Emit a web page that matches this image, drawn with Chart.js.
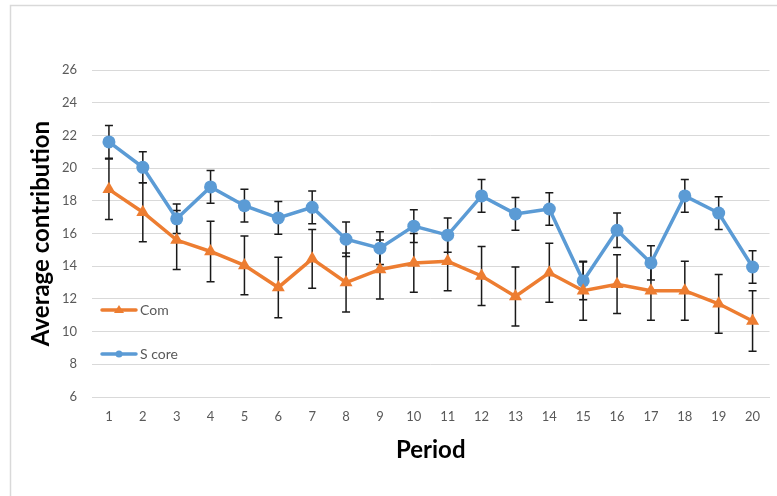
<!DOCTYPE html>
<html>
<head>
<meta charset="utf-8">
<script src="https://cdn.jsdelivr.net/npm/chart.js@4"></script>
<style>
  html, body { margin: 0; padding: 0; background: #fff; }
  #wrap { width: 777px; height: 496px; position: relative; }
</style>
</head>
<body>
<div id="wrap"><canvas id="c" width="777" height="496"></canvas></div>
<script>
const periods = ["1","2","3","4","5","6","7","8","9","10","11","12","13","14","15","16","17","18","19","20"];
const comValues = [18.7, 17.3, 15.6, 14.9, 14.05, 12.7, 14.45, 13.0, 13.8, 14.2, 14.3, 13.4, 12.15, 13.6, 12.5, 12.9, 12.5, 12.5, 11.7, 10.65];
const comErrors = [1.85, 1.8, 1.8, 1.85, 1.8, 1.85, 1.8, 1.8, 1.8, 1.8, 1.8, 1.8, 1.8, 1.8, 1.8, 1.8, 1.8, 1.8, 1.8, 1.85];
const scoreValues = [21.6, 20.05, 16.9, 18.85, 17.7, 16.95, 17.6, 15.65, 15.1, 16.45, 15.9, 18.3, 17.2, 17.5, 13.1, 16.2, 14.2, 18.3, 17.25, 13.95];
const scoreErrors = [1.0, 0.95, 0.9, 1.0, 1.0, 1.0, 1.0, 1.05, 1.0, 1.0, 1.05, 1.0, 1.0, 1.0, 1.15, 1.05, 1.05, 1.0, 1.0, 1.0];
const seriesNames = ["Com", "S core"];
const yTitle = "Average contribution";
const xTitle = "Period";

const ORANGE = "#ED7D31";
const BLUE = "#5B9BD5";
const GRID = "#D9D9D9";
const TICK = "#595959";
const FONT = "Lato, 'Liberation Sans', sans-serif";

const errorSets = [comErrors, scoreErrors];

const frame = {
  id: "frame",
  beforeDraw(chart) {
    const ctx = chart.ctx;
    ctx.save();
    ctx.fillStyle = "#fff";
    ctx.fillRect(0, 0, chart.width, chart.height);
    ctx.strokeStyle = GRID;
    ctx.lineWidth = 1.5;
    ctx.strokeRect(10.5, 5.5, 900, 600);
    ctx.restore();
  }
};

const errorBars = {
  id: "errorBars",
  beforeDatasetsDraw(chart) {
    const ctx = chart.ctx;
    const x = chart.scales.x, y = chart.scales.y;
    ctx.save();
    ctx.strokeStyle = "#1a1a1a";
    ctx.lineWidth = 1.5;
    chart.data.datasets.forEach((ds, di) => {
      const errs = errorSets[di];
      ds.data.forEach((v, i) => {
        const px = x.getPixelForValue(i);
        const top = y.getPixelForValue(v + errs[i]);
        const bot = y.getPixelForValue(v - errs[i]);
        ctx.beginPath();
        ctx.moveTo(px, top); ctx.lineTo(px, bot);
        ctx.moveTo(px - 4, top); ctx.lineTo(px + 4, top);
        ctx.moveTo(px - 4, bot); ctx.lineTo(px + 4, bot);
        ctx.stroke();
      });
    });
    ctx.restore();
  }
};

const insideLegend = {
  id: "insideLegend",
  afterDraw(chart) {
    const ctx = chart.ctx;
    const y = chart.scales.y;
    const items = [
      { name: seriesNames[0], color: ORANGE, style: "triangle", yv: 11.3 },
      { name: seriesNames[1], color: BLUE, style: "circle", yv: 8.6 }
    ];
    ctx.save();
    items.forEach(it => {
      const py = Math.round(y.getPixelForValue(it.yv));
      ctx.strokeStyle = it.color;
      ctx.lineWidth = 3.5;
      ctx.lineCap = "round";
      ctx.beginPath();
      ctx.moveTo(102, py); ctx.lineTo(136, py);
      ctx.stroke();
      ctx.fillStyle = it.color;
      ctx.beginPath();
      if (it.style === "circle") {
        ctx.arc(119, py, 3.5, 0, Math.PI * 2);
      } else {
        ctx.moveTo(119, py - 5); ctx.lineTo(124, py + 3); ctx.lineTo(114, py + 3); ctx.closePath();
      }
      ctx.fill();
      ctx.fillStyle = TICK;
      ctx.font = "14px " + FONT;
      ctx.textBaseline = "middle";
      ctx.fillText(it.name, 140, py);
    });
    ctx.restore();
  }
};

new Chart(document.getElementById("c"), {
  type: "line",
  data: {
    labels: periods,
    datasets: [
      {
        label: seriesNames[0],
        data: comValues,
        borderColor: ORANGE,
        backgroundColor: ORANGE,
        borderWidth: 3.5,
        pointStyle: "triangle",
        pointRadius: 7.5,
        pointBorderWidth: 0,
        tension: 0
      },
      {
        label: seriesNames[1],
        data: scoreValues,
        borderColor: BLUE,
        backgroundColor: BLUE,
        borderWidth: 3.5,
        pointStyle: "circle",
        pointRadius: 6.5,
        pointBorderWidth: 0,
        tension: 0
      }
    ]
  },
  options: {
    responsive: false,
    animation: false,
    devicePixelRatio: 1,
    layout: { padding: { top: 70, right: 7, bottom: 0, left: 0 } },
    plugins: {
      legend: { display: false },
      tooltip: { enabled: false }
    },
    scales: {
      x: {
        offset: true,
        grid: { display: false, drawTicks: false },
        border: { display: true, color: GRID, width: 1 },
        ticks: { color: TICK, font: { family: FONT, size: 13 }, padding: 12, maxRotation: 0, autoSkip: false },
        title: { display: true, text: xTitle, color: "#000", font: { family: FONT, size: 24, weight: "bold" }, padding: { bottom: 31 } },
        afterFit(s) { s.height = 99; }
      },
      y: {
        min: 6, max: 26,
        ticks: { stepSize: 2, color: TICK, font: { family: FONT, size: 13 }, padding: 15 },
        grid: { color: GRID, lineWidth: 1, drawTicks: false },
        border: { display: false },
        title: { display: true, text: yTitle, color: "#000", font: { family: FONT, size: 24, weight: "bold" }, padding: { top: 27 } },
        afterFit(s) { s.width = 92; }
      }
    }
  },
  plugins: [frame, errorBars, insideLegend]
});
</script>
</body>
</html>
